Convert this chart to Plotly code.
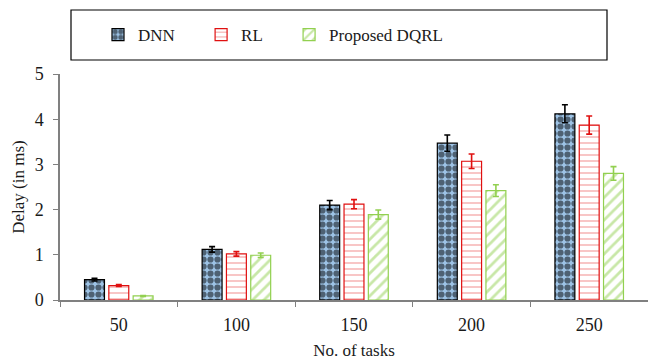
import plotly.graph_objects as go

tasks = ["50", "100", "150", "200", "250"]
dnn = [0.45, 1.12, 2.10, 3.47, 4.12]
rl = [0.32, 1.02, 2.12, 3.07, 3.87]
dqrl = [0.09, 0.99, 1.89, 2.42, 2.80]
dnn_err = [0.03, 0.06, 0.10, 0.18, 0.20]
rl_err = [0.02, 0.05, 0.10, 0.16, 0.20]
dqrl_err = [0.01, 0.05, 0.10, 0.13, 0.15]
names = ["DNN", "RL", "Proposed DQRL"]

FONT = "Liberation Serif"
AXIS_GREY = "#808080"
PAD = "\u00a0" * 5

styles = [
    ("#9DC3E6", "#000000", "#000000", ".", 7, 0.62),
    ("#FFFFFF", "#E01010", "#E01010", "-", 6, 0.16),
    ("#FFFFFF", "#92D050", "#92D050", "/", 8, 0.35),
]

fig = go.Figure()
for i, (vals, errs) in enumerate([(dnn, dnn_err), (rl, rl_err), (dqrl, dqrl_err)]):
    bg, fg, line, shape, size, solid = styles[i]
    label = names[i] + (PAD if i < len(names) - 1 else "")
    fig.add_trace(go.Bar(
        name=label,
        x=tasks,
        y=vals,
        error_y=dict(type="data", array=errs, color=line, thickness=1.6, width=3),
        marker=dict(
            color=bg,
            line=dict(color=line, width=1.2),
            pattern=dict(shape=shape, fgcolor=fg, bgcolor=bg, size=size,
                         solidity=solid, fillmode="overlay"),
        ),
    ))

fig.update_layout(
    width=648,
    height=361,
    margin=dict(l=60, r=0, t=74, b=61),
    plot_bgcolor="white",
    paper_bgcolor="white",
    barmode="group",
    bargap=0.38,
    bargroupgap=0.18,
    font=dict(family=FONT, size=17, color="#1a1a1a"),
    showlegend=True,
    legend=dict(
        orientation="h",
        x=(98 - 60) / 588, xanchor="left",
        y=(300 - 35) / 226, yanchor="middle",
        font=dict(family=FONT, size=17, color="#1a1a1a"),
        itemwidth=30,
        bgcolor="rgba(0,0,0,0)",
    ),
    shapes=[dict(
        type="rect", xref="paper", yref="paper",
        x0=(71 - 60) / 588, x1=(607 - 60) / 588,
        y0=(300 - 60) / 226, y1=(300 - 10) / 226,
        line=dict(color="#000000", width=1.2),
    )],
)

fig.update_xaxes(
    title=dict(text="No. of tasks", font=dict(family=FONT, size=17), standoff=10),
    type="category",
    showline=True, linecolor=AXIS_GREY, linewidth=1.5,
    ticks="outside", tickson="boundaries", ticklen=5, tickcolor=AXIS_GREY,
    tickfont=dict(family=FONT, size=18),
    ticklabelstandoff=8,
    showgrid=False,
)
fig.update_yaxes(
    title=dict(text="Delay (in ms)", font=dict(family=FONT, size=17), standoff=6),
    range=[0, 5], dtick=1,
    showline=True, linecolor=AXIS_GREY, linewidth=1.5,
    ticks="outside", ticklen=5, tickcolor=AXIS_GREY,
    tickfont=dict(family=FONT, size=18),
    ticklabelstandoff=6,
    showgrid=False, zeroline=False,
)

fig.write_html("out.html")
